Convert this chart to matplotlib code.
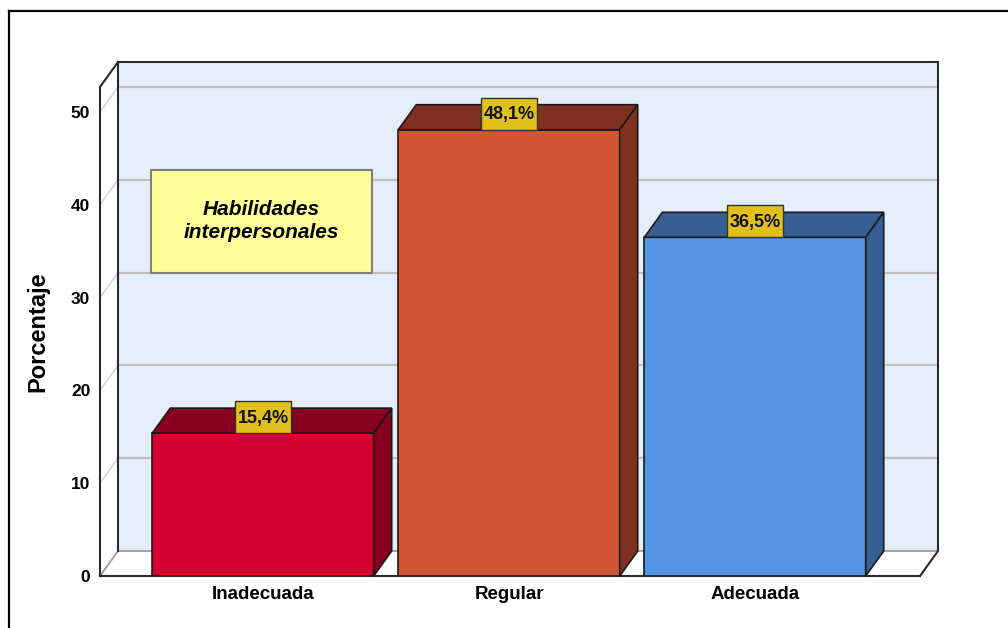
import matplotlib
import matplotlib.pyplot as plt
import matplotlib.transforms as mtransforms
from matplotlib.patches import Polygon, Rectangle
from matplotlib.lines import Line2D
import numpy as np

matplotlib.use('Agg')

# Data
categories = ['Inadecuada', 'Regular', 'Adecuada']
percentages = [15.4, 48.1, 36.5]
value_labels = ['15,4%', '48,1%', '36,5%']
front_colors = ['#D60030', '#D15433', '#5595E3']
shade_colors = ['#870020', '#803021', '#365E92']
y_ticks = [0, 10, 20, 30, 40, 50]
title_text = 'Habilidades\ninterpersonales'

# Depth of the pseudo 3D box, in pixels
DX, DY = 18, 25
Y_MAX = 52.7
BAR_WIDTH = 0.9

plt.rcParams['font.family'] = ['Liberation Sans', 'DejaVu Sans']

fig = plt.figure(figsize=(10.08, 6.28), dpi=100)
ax = fig.add_axes([100 / 1008, 52 / 628, 820 / 1008, 489 / 628])
ax.set_xlim(-0.6626, 2.6707)
ax.set_ylim(0, Y_MAX)
x0, x1 = ax.get_xlim()


def depth(x, y):
    """Shift a data point back into the depth of the chart."""
    px = ax.transData.transform((x, y))
    return ax.transData.inverted().transform(px + np.array([DX, DY]))


edge = '#2b2b2b'

# back wall
bl = depth(x0, 0)
tr = depth(x1, Y_MAX)
ax.add_patch(Rectangle(bl, tr[0] - bl[0], tr[1] - bl[1], facecolor='#E3EEFA',
                       edgecolor='none', zorder=0, clip_on=False))

# left wall and floor
ax.add_patch(Polygon([(x0, 0), (x0, Y_MAX), depth(x0, Y_MAX), depth(x0, 0)],
                     closed=True, facecolor='white', edgecolor='none', zorder=0, clip_on=False))
ax.add_patch(Polygon([(x0, 0), (x1, 0), depth(x1, 0), depth(x0, 0)],
                     closed=True, facecolor='white', edgecolor='none', zorder=0, clip_on=False))

# grid lines on back wall and left wall
for v in y_ticks[1:]:
    a, b = depth(x0, v), depth(x1, v)
    ax.add_line(Line2D([a[0], b[0]], [a[1], b[1]], color='#BFBFBF', lw=1.6, zorder=1, clip_on=False))
    ax.add_line(Line2D([x0, a[0]], [v, a[1]], color='#D6D6D6', lw=1.2, zorder=1, clip_on=False))

# wall outlines
a0, a1 = depth(x0, 0), depth(x1, 0)
ax.add_line(Line2D([a0[0], a1[0]], [a0[1], a1[1]], color='#9A9A9A', lw=1.3, zorder=1, clip_on=False))
ax.add_line(Line2D([x0, a0[0]], [0, a0[1]], color='#9A9A9A', lw=1.3, zorder=1, clip_on=False))
tl = depth(x0, Y_MAX)
ax.add_line(Line2D([x0, tl[0], tr[0], tr[0], a1[0], x1],
                   [Y_MAX, tl[1], tr[1], a1[1], a1[1], 0],
                   color=edge, lw=1.5, zorder=1, clip_on=False))
ax.add_line(Line2D([tl[0], a0[0]], [tl[1], a0[1]], color=edge, lw=1.5, zorder=1, clip_on=False))

# bars
xs = np.arange(len(categories))
ax.bar(xs, percentages, width=BAR_WIDTH, color=front_colors, edgecolor='#1a1a1a', lw=1.2, zorder=3)
for x, v, shade, lab in zip(xs, percentages, shade_colors, value_labels):
    left, right = x - BAR_WIDTH / 2, x + BAR_WIDTH / 2
    ax.add_patch(Polygon([(left, v), (right, v), depth(right, v), depth(left, v)], closed=True,
                         facecolor=shade, edgecolor='#1a1a1a', lw=1.2, zorder=3, clip_on=False))
    ax.add_patch(Polygon([(right, 0), depth(right, 0), depth(right, v), (right, v)], closed=True,
                         facecolor=shade, edgecolor='#1a1a1a', lw=1.2, zorder=3, clip_on=False))
    # value label box, sized in inches and anchored at the bar top
    anchor = fig.dpi_scale_trans + mtransforms.ScaledTranslation(x, v, ax.transData)
    ax.add_patch(Rectangle((-0.28, 0), 0.56, 0.32, transform=anchor, facecolor='#E1C01E',
                           edgecolor='#333333', lw=1.0, zorder=4, clip_on=False))
    ax.annotate(lab, (x, v), xytext=(0, 15), textcoords='offset pixels', ha='center', va='center',
                fontsize=13, fontweight='bold', color='#111111', zorder=5)

# legend-like title box
ax.add_patch(Rectangle((0.0622, 0.6196), 0.2695, 0.2106, transform=ax.transAxes,
                       facecolor='#FFFF99', edgecolor='#7F7F7F', lw=1.5, zorder=4, clip_on=False))
ax.text(0.197, 0.726, title_text, transform=ax.transAxes, ha='center', va='center',
        fontsize=15, fontweight='bold', fontstyle='italic', linespacing=1.25, zorder=5)

# axes styling
for side in ['top', 'right']:
    ax.spines[side].set_visible(False)
for side in ['left', 'bottom']:
    ax.spines[side].set_color(edge)
    ax.spines[side].set_linewidth(1.5)
    ax.spines[side].set_zorder(2)
ax.set_yticks(y_ticks)
ax.set_yticklabels([str(t) for t in y_ticks], fontsize=12.5, fontweight='bold')
ax.set_xticks(xs)
ax.set_xticklabels(categories, fontsize=13.5, fontweight='bold')
ax.tick_params(axis='y', length=0, pad=7)
ax.tick_params(axis='x', length=0, pad=7)
ax.set_ylabel('Porcentaje', fontsize=17, fontweight='bold', va='center')
ax.yaxis.set_label_coords(-0.0756, 0.5)
ax.patch.set_visible(False)

# outer frame (top and left)
fig.add_artist(Line2D([9 / 1008, 1], [1 - 11 / 628, 1 - 11 / 628], color='black', lw=1.6,
                      transform=fig.transFigure))
fig.add_artist(Line2D([9 / 1008, 9 / 1008], [0, 1 - 11 / 628], color='black', lw=1.6,
                      transform=fig.transFigure))

fig.savefig('out.png', dpi=100)
